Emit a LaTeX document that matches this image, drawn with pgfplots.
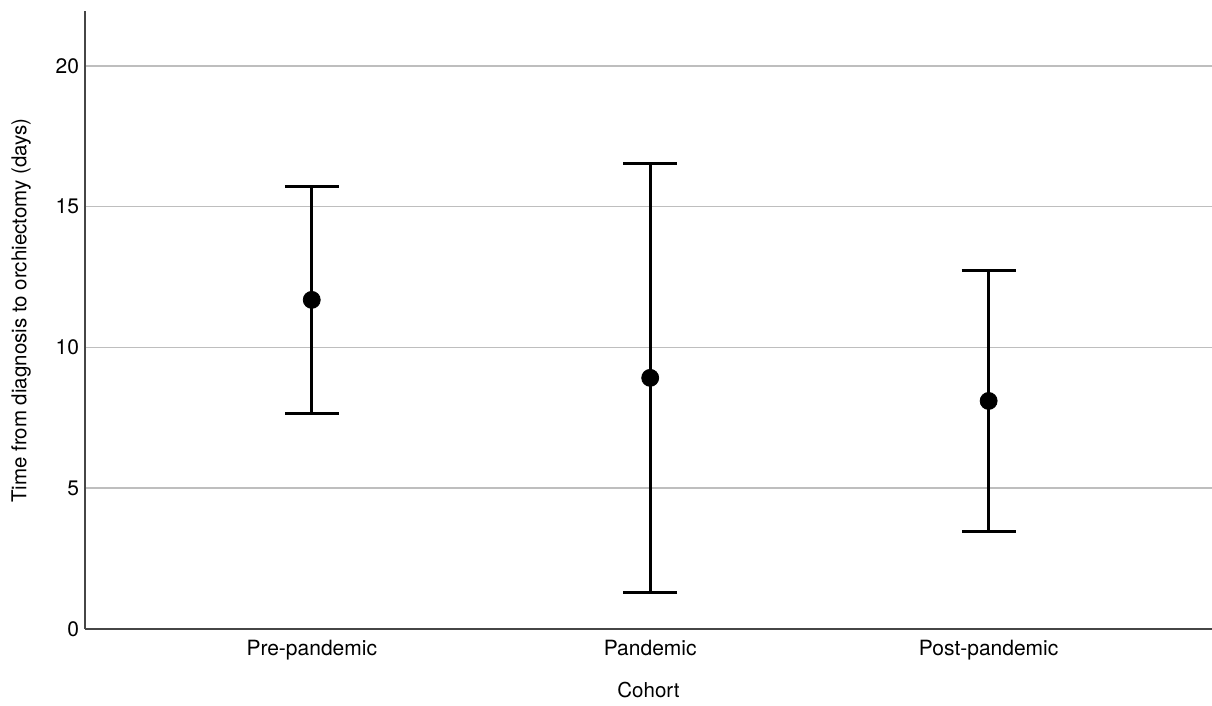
\documentclass[border=0pt]{standalone}
\usepackage{fontspec}
\setmainfont{TeX Gyre Heros}
\usepackage{pgfplots}
\pgfplotsset{compat=1.18}
\definecolor{gridgray}{RGB}{190,190,190}
\definecolor{axisgray}{RGB}{70,70,70}
\begin{document}
\begin{tikzpicture}
\begin{axis}[
  at={(0,0)}, anchor=south west,
  scale only axis,
  width=563.5bp, height=309bp,
  xmin=-0.67, xmax=2.66,
  ymin=0, ymax=21.95,
  axis x line=bottom, axis y line=left,
  axis line style={axisgray, line width=0.6bp, -},
  xtick={0,1,2},
  xticklabels={Pre-pandemic,Pandemic,Post-pandemic},
  ytick={0,5,10,15,20},
  major tick length=0pt,
  ymajorgrids=true,
  grid style={gridgray, line width=0.75bp},
  font=\fontsize{10.25bp}{12bp}\selectfont,
  tick label style={font=\fontsize{10.5bp}{12bp}\selectfont},
  /pgf/number format/assume math mode=true,
  xticklabel style={yshift=-2bp},
  yticklabel style={xshift=0.5bp},
  xlabel={Cohort},
  ylabel={Time from diagnosis to orchiectomy (days)},
  xlabel style={at={(rel axis cs:0.5,0)}, anchor=center, yshift=-30.5bp},
  ylabel style={at={(rel axis cs:0,0.515)}, anchor=center, yshift=32bp},
  clip=false,
]
\addplot[only marks, mark=*, mark size=4.25bp, black,
  error bars/.cd, y dir=both, y explicit,
  error bar style={line width=1.5bp, black},
  error mark options={rotate=90, mark size=13.5bp, line width=1.5bp, black}]
coordinates {
  (0,11.69) += (0,4.01) -= (0,4.02)
  (1,8.92) += (0,7.63) -= (0,7.64)
  (2,8.10) += (0,4.65) -= (0,4.65)
};
\end{axis}
\pgfresetboundingbox
\path[use as bounding box] (-42.5bp,-38.5bp) rectangle (563.5bp,314.5bp);
\end{tikzpicture}
\end{document}
